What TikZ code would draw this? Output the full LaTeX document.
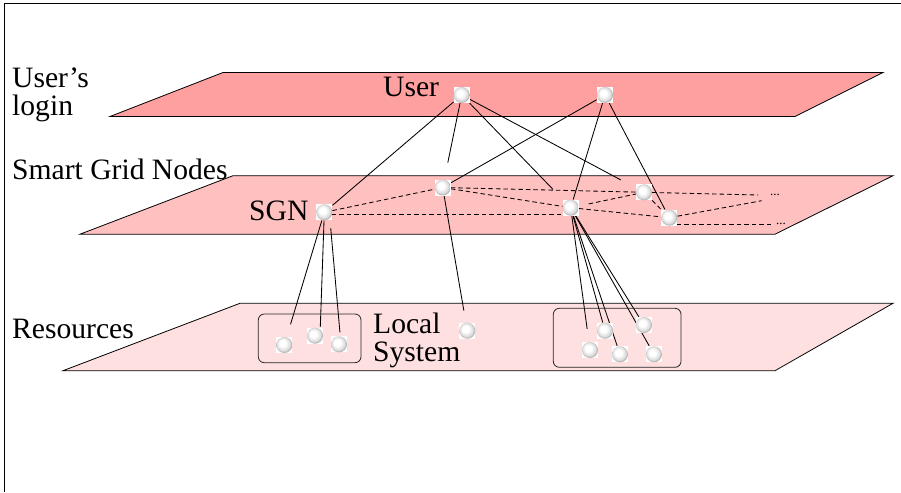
\documentclass[tikz,border=0pt]{standalone}
\usepackage{fontspec}
\setmainfont{Liberation Serif}
\pgfdeclarelayer{planes}
\pgfdeclarelayer{edges}
\pgfsetlayers{planes,edges,main}
% white sphere, lit from the upper left
\pgfdeclareradialshading{sphere}{\pgfpoint{-7bp}{7bp}}{color(0bp)=(white); color(10bp)=(white); color(21bp)=(black!14); color(30bp)=(black!45); color(40bp)=(black!60)}
\begin{document}
\begin{tikzpicture}[x=1pt,y=-1pt,
  lbl/.style={anchor=base west, inner sep=0pt, font=\fontsize{29.6}{28}\selectfont},
  ball/.style={rectangle, fill=white, minimum size=16pt, inner sep=0pt,
    path picture={\shade[shading=sphere] (path picture bounding box.center) circle (8pt);}},
  layer/.style={draw=black, line width=0.8pt},
  link/.style={line width=0.85pt},
  mesh/.style={line width=0.85pt, dash pattern=on 4.5pt off 3pt},
  group/.style={draw=black!85, line width=0.8pt, rounded corners=6pt},
  dots/.style={anchor=base, inner sep=0pt, font=\fontsize{13}{13}\selectfont}]
\useasboundingbox (0,0) rectangle (901,492);

\begin{pgfonlayer}{planes}
  % frame
  \draw[line width=1.1pt] (4.3,492) -- (4.3,3.3) -- (901,3.3);
  % three layers
  \filldraw[layer, fill={rgb,255:red,255;green,160;blue,160}]
    (223,72.5) -- (883,72.5) -- (795,116.5) -- (110,116.5) -- cycle;
  \filldraw[layer, fill={rgb,255:red,255;green,192;blue,192}]
    (233,175.7) -- (893,175.7) -- (775,234.2) -- (80,234.2) -- cycle;
  \filldraw[layer, fill={rgb,255:red,255;green,224;blue,224}]
    (240,303.3) -- (893,303.3) -- (775,370.7) -- (63,370.7) -- cycle;
\end{pgfonlayer}

% side labels
\node[lbl] (lu1) at (12,88) {User's};
\node[lbl] (lu2) at (12,116) {login};
\node[lbl] (lsg) at (12,179) {Smart Grid Nodes};
\node[lbl] (lre) at (12,338) {Resources};
% labels inside the layers
\node[lbl] (tuser) at (383,97) {User};
\node[lbl] (tsgn) at (249,220) {SGN};
\node[lbl] (tloc1) at (373,333) {Local};
\node[lbl] (tloc2) at (373,361) {System};

% local systems
\draw[group] (258.3,314) rectangle (361,362.7);
\draw[group] (553.3,308.3) rectangle (681,367.3);

% user layer
\node[ball] (u1) at (461.7,95) {};
\node[ball] (u2) at (605,95) {};
% smart grid nodes
\node[ball] (sgn) at (324.3,212.3) {};
\node[ball] (s2) at (442.7,187.5) {};
\node[ball] (s3) at (570.7,207.7) {};
\node[ball] (s4) at (644,192.3) {};
\node[ball] (s5) at (669.3,217.7) {};
% resources
\node[ball] (r1) at (284.3,345) {};
\node[ball] (r2) at (315,335.7) {};
\node[ball] (r3) at (339,344.3) {};
\node[ball] (r4) at (467.3,330.7) {};
\node[ball] (r5) at (605,330.7) {};
\node[ball] (r6) at (644,325) {};
\node[ball] (r7) at (590,350) {};
\node[ball] (r8) at (620,354.3) {};
\node[ball] (r9) at (654,354.3) {};

% continuation marks
\node[dots] (d1) at (775,195) {...};
\node[dots] (d2) at (781,224.5) {...};
\coordinate (e1) at (758,195);
\coordinate (e2) at (761.7,200.7);
\coordinate (e3) at (773,224.3);
\coordinate (h1) at ([yshift=-2.2pt]sgn.center);
\coordinate (h2) at ([yshift=-6.6pt]s5.center);

\begin{pgfonlayer}{edges}
  % user logins to grid nodes
  \draw[link] (u1) -- (sgn);
  \draw[link, shorten >=17pt] (u1) -- (s2);
  \draw[link, shorten >=14pt] (u1) -- (s3);
  \draw[link, shorten >=17pt] (u1) -- (s4);
  \draw[link] (u2) -- (s2);
  \draw[link] (u2) -- (s3);
  \draw[link] (u2) -- (s5);
  % grid nodes to resources
  \draw[link, shorten >=13pt] (sgn) -- (r1);
  \draw[link, shorten >=9pt] (sgn) -- ([xshift=5pt]r2.center);
  \draw[link, shorten <=16pt, shorten >=12pt] ([xshift=5pt]sgn.center) -- ([xshift=2pt]r3.center);
  \draw[link, shorten >=12pt] (s2) -- (r4);
  \draw[link, shorten >=13pt] (s3) -- (r7);
  \draw[link] (s3) -- (r5);
  \draw[link] (s3) -- (r8);
  \draw[link] (s3) -- (r9);
  \draw[link] (s3) -- (r6);
  % mesh between grid nodes
  \draw[mesh] (sgn) -- (s2);
  \draw[mesh] (h1) -- (h1 -| s3);
  \draw[mesh] (s2) -- (s4);
  \draw[mesh] (s2) -- (s3);
  \draw[mesh, shorten <=10pt] (s3) -- (s4);
  \draw[mesh] (s3) -- (s5);
  \draw[mesh] (s4) -- (s5);
  \draw[mesh] (s4) -- (e1);
  \draw[mesh] (s5) -- (e2);
  \draw[mesh] (h2) -- (e3);
\end{pgfonlayer}
\end{tikzpicture}
\end{document}
